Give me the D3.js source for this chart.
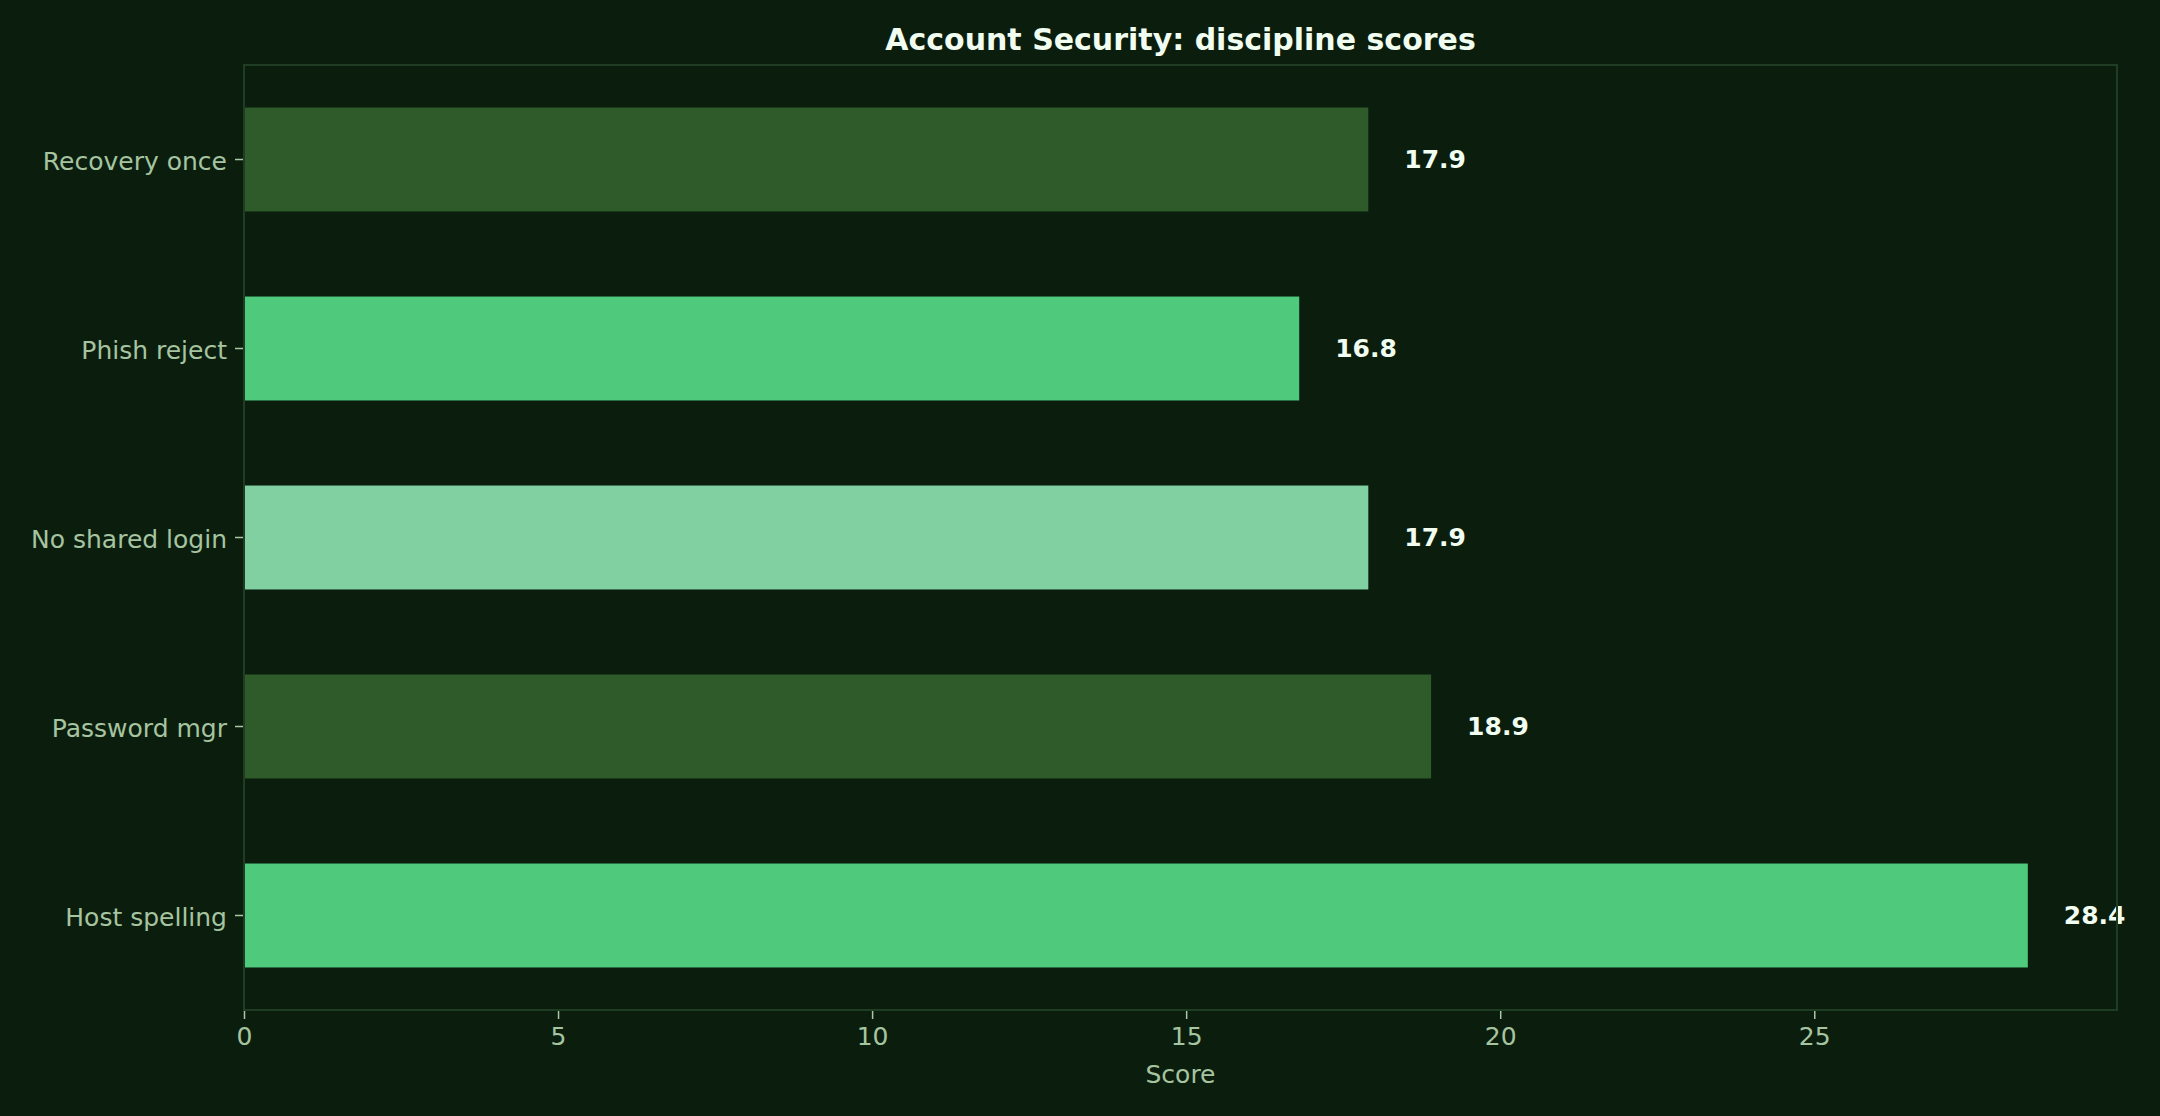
<!DOCTYPE html>
<html>
<head>
<meta charset="utf-8">
<script src="https://cdn.jsdelivr.net/npm/d3@7"></script>
<style>
  html, body { margin: 0; padding: 0; background: #0b1e0e; }
  svg { display: block; font-family: "DejaVu Sans", sans-serif; }
</style>
</head>
<body>
<script>
// chart data
var categories = ["Recovery once", "Phish reject", "No shared login", "Password mgr", "Host spelling"];
var scores = [17.9, 16.8, 17.9, 18.9, 28.4];
var barColors = ["#2e5b29", "#4fc97c", "#80d0a1", "#2e5b29", "#4fc97c"];
var xTicks = [0, 5, 10, 15, 20, 25];
var chartTitle = "Account Security: discipline scores";
var xTitle = "Score";

window.onload = drawChart();

function drawChart(){
    var width = 2160,
        height = 1116;
    var margin = {top: 65, right: 43, bottom: 106, left: 244};
    var innerW = width - margin.left - margin.right,
        innerH = height - margin.top - margin.bottom;

    var svg = d3.select("body")
        .append("svg")
        .attr("width", width)
        .attr("height", height);

    svg.append("rect")
        .attr("width", width)
        .attr("height", height)
        .attr("fill", "#0b1e0e");

    var g = svg.append("g")
        .attr("transform", "translate(" + margin.left + "," + margin.top + ")");

    var x = d3.scaleLinear()
        .domain([0, d3.max(scores) * 1.05])
        .range([0, innerW]);

    var y = d3.scaleBand()
        .domain(categories)
        .range([0, innerH])
        .paddingInner(0.45)
        .paddingOuter(0.225);

    var rows = categories.map(function(c, i){
        return {name: c, value: scores[i], color: barColors[i]};
    });

    //bars
    g.selectAll(".bar")
        .data(rows)
        .enter()
        .append("rect")
        .attr("class", "bar")
        .attr("x", x(0))
        .attr("y", function(d){ return y(d.name); })
        .attr("width", function(d){ return x(d.value) - x(0); })
        .attr("height", y.bandwidth())
        .attr("fill", function(d){ return d.color; });

    //value labels
    g.selectAll(".val")
        .data(rows)
        .enter()
        .append("text")
        .attr("class", "val")
        .attr("x", function(d){ return x(d.value) + 36; })
        .attr("y", function(d){ return y(d.name) + y.bandwidth() / 2; })
        .attr("dy", "0.33em")
        .attr("fill", "#f0fdf0")
        .attr("font-size", 25)
        .attr("font-weight", "bold")
        .text(function(d){ return d.value.toFixed(1); });

    //frame
    g.append("rect")
        .attr("width", innerW)
        .attr("height", innerH)
        .attr("fill", "none")
        .attr("stroke", "#1f3d22")
        .attr("stroke-width", 2);

    var xAxis = g.append("g")
        .attr("transform", "translate(0," + (innerH + 1) + ")")
        .call(d3.axisBottom(x).tickValues(xTicks).tickSize(8).tickPadding(8).tickFormat(d3.format("d")));
    xAxis.select(".domain").remove();

    var yAxis = g.append("g")
        .attr("transform", "translate(-1,0)")
        .call(d3.axisLeft(y).tickSize(8).tickPadding(8));
    yAxis.select(".domain").remove();
    yAxis.selectAll("text").attr("dy", "0.4em");

    [xAxis, yAxis].forEach(function(ax){
        ax.selectAll("line").attr("stroke", "#a9c9a4").attr("stroke-width", 1.5);
        ax.selectAll("text")
            .attr("fill", "#a6c4a0")
            .attr("font-size", 25)
            .attr("font-family", "DejaVu Sans, sans-serif");
    });

    svg.append("text")
        .attr("x", margin.left + innerW / 2)
        .attr("y", 50)
        .attr("text-anchor", "middle")
        .attr("fill", "#f0fdf0")
        .attr("font-size", 30)
        .attr("font-weight", "bold")
        .text(chartTitle);

    svg.append("text")
        .attr("x", margin.left + innerW / 2)
        .attr("y", 1083)
        .attr("text-anchor", "middle")
        .attr("fill", "#a6c4a0")
        .attr("font-size", 25)
        .text(xTitle);
}
</script>
</body>
</html>
